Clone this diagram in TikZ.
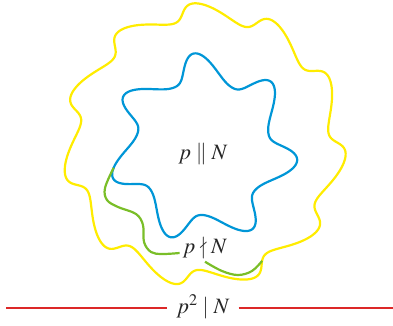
\documentclass[tikz,border=0pt]{standalone}
\usepackage{mathptmx}
\usepackage{amsmath,amssymb}
\usepackage{xcolor}
\usetikzlibrary{positioning, calc}

\definecolor{ringyellow}{RGB}{255,236,0}
\definecolor{starblue}{RGB}{0,150,215}
\definecolor{pathgreen}{RGB}{122,190,40}
\definecolor{linered}{RGB}{220,40,40}

\tikzset{
  wave/.style={line width=2.2bp, line join=round},
  lab/.style={font=\fontsize{22}{26}\selectfont, inner sep=3bp, text=black!85},
  declare function={
    bump(\u)=0.25*(1+cos(\u))+0.125*(1+cos(\u))*(1+cos(\u));
    br(\t)=67+28*bump(7*(\t-92));
    ba(\t)=\t+3*cos(7*(\t-92));
    yr(\t)=133.5+8.5*cos(11*(\t-91));
    ya(\t)=\t+3*cos(11*(\t-91));
  }
}

\begin{document}
\begin{tikzpicture}[x=1bp, y=-1bp]
    \useasboundingbox (0,0) rectangle (393,326);

    % --- OUTER YELLOW RING ---
    \draw[wave, ringyellow] plot[domain=0:360, samples=721, variable=\t]
        ({204+yr(\t)*cos(ya(\t))}, {145-yr(\t)*sin(ya(\t))}) -- cycle;

    % --- INNER BLUE STAR ---
    \draw[wave, starblue] plot[domain=0:360, samples=721, variable=\t]
        ({203+br(\t)*cos(ba(\t))}, {148-br(\t)*sin(ba(\t))}) -- cycle;

    % --- LABELS ---
    \node[lab, anchor=base] (pdiv) at (203,159) {$p\parallel N$};
    \node[lab, anchor=base] (pnot) at (205,253) {$p\nmid N$};
    \node[lab, anchor=base, inner xsep=9bp] (psq) at (203,313) {$p^2\mid N$};

    % --- GREEN PATH FROM STAR TO RING ---
    \coordinate (gstart) at ({203+br(190)*cos(ba(190))}, {148-br(190)*sin(ba(190))});
    \coordinate (gend) at ({204+yr(298)*cos(ya(298))}, {145-yr(298)*sin(ya(298))});
    \draw[wave, pathgreen] plot[smooth, tension=0.6] coordinates
        {(gstart) (105,188) (107,200) (118,207) (136,214) (143,225) (144,242) (151,252) (162,254) (pnot.base west)};
    \draw[wave, pathgreen] plot[smooth, tension=0.6] coordinates
        {(pnot.south) (222,271) (238,275) (252,271) (gend)};

    % --- RED BASE LINE ---
    \coordinate (redL) at (6,308);
    \coordinate (redR) at (393,308);
    \draw[linered, line width=2bp] (redL) -- (redL -| psq.west);
    \draw[linered, line width=2bp] (psq.east |- redR) -- (redR);

\end{tikzpicture}
\end{document}
